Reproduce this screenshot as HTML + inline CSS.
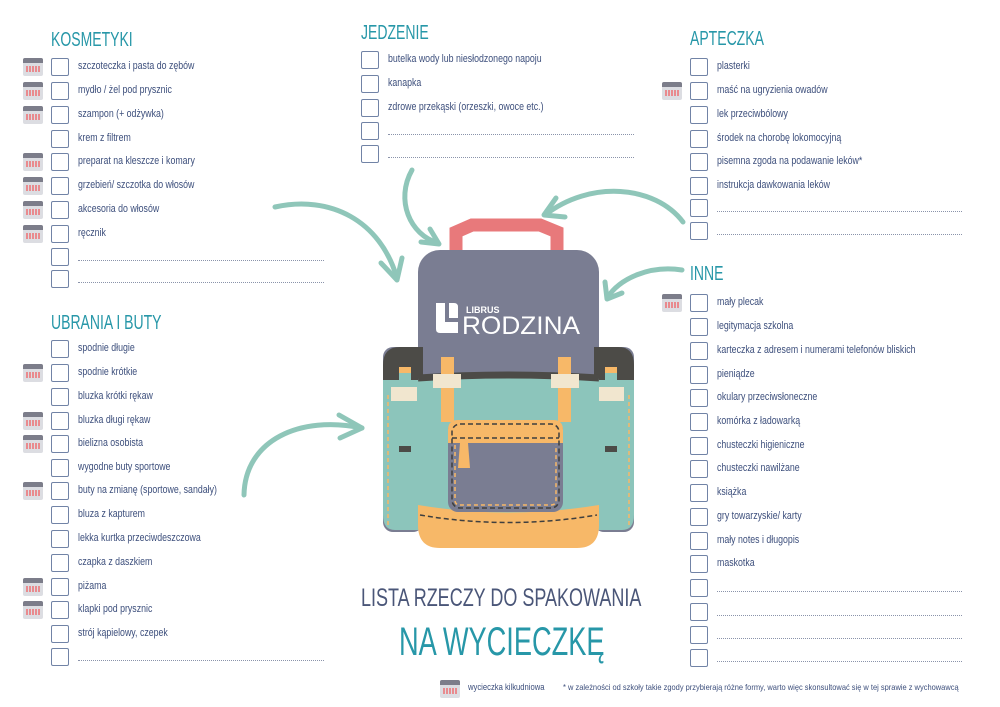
<!DOCTYPE html>
<html><head><meta charset="utf-8"><style>
*{margin:0;padding:0;box-sizing:border-box}
body{width:1000px;height:707px;background:#fff;position:relative;overflow:hidden;font-family:"Liberation Sans",sans-serif;color:#3d4f7c}
.h{position:absolute;font-family:"Liberation Sans",sans-serif;font-size:20px;color:#2797a8;transform:scaleX(0.7);transform-origin:0 0;white-space:nowrap}
.r{position:absolute;height:18px;width:300px}
.b{position:absolute;left:0;top:0;width:18px;height:18px;border:1.5px solid #7183a6;border-radius:2px;background:#fff}
.t{position:absolute;left:27px;top:2px;font-size:11px;white-space:nowrap;color:#3d4f7c;transform:scaleX(0.8);transform-origin:0 0}
.d{position:absolute;left:27px;top:12px;height:0;border-top:1px dotted #8a93aa}
.c{position:absolute;left:-28px;top:0;width:20px;height:18px;background:#dcdde2;border-radius:2px;overflow:hidden}
.c:before{content:"";position:absolute;left:0;top:0;width:20px;height:5px;background:#7c7d8a}
.c:after{content:"";position:absolute;left:3px;top:8px;width:14px;height:6px;background:repeating-linear-gradient(90deg,#e98a8e 0 2px,transparent 2px 3px)}
</style></head><body>

<svg width="1000" height="707" style="position:absolute;left:0;top:0" viewBox="0 0 1000 707">
<g fill="none" stroke="#8fc6b9" stroke-width="5" stroke-linecap="round" stroke-linejoin="round">
<path d="M275 207 C330 195 380 220 397 278"/><path d="M381 263 L397 280 L402 258"/>
<path d="M412 170 C395 200 410 235 438 243"/><path d="M421 242 L439 244 L430 229"/>
<path d="M683 222 C655 185 590 180 545 215"/><path d="M556 198 L544 215 L565 217"/>
<path d="M682 270 C650 265 620 278 607 298"/><path d="M605 282 L607 299 L622 293"/>
<path d="M244 495 C245 440 300 415 362 428"/><path d="M339 415 L362 428 L340 438"/>
</g>
<path d="M456 262 L456 232 L472 225 L540 225 L557 232 L557 262" fill="none" stroke="#e8797b" stroke-width="13"/>
<rect x="418" y="250" width="181" height="295" rx="22" fill="#7a7d92"/>
<rect x="383" y="347" width="40" height="185" rx="10" fill="#7a7d92"/>
<rect x="594" y="347" width="40" height="185" rx="10" fill="#7a7d92"/>
<path d="M383 380 L383 365 Q383 347 400 347 L423 347 L423 380 Z" fill="#4c4b47"/>
<path d="M594 380 L594 347 L618 347 Q634 347 634 365 L634 380 Z" fill="#4c4b47"/>
<path d="M383 380 L423 380 L423 530 L395 530 Q383 530 383 515 Z" fill="#8cc5bb"/>
<path d="M594 380 L634 380 L634 515 Q634 530 622 530 L594 530 Z" fill="#8cc5bb"/>
<rect x="399" y="367" width="12" height="85" fill="#8cc5bb"/>
<rect x="605" y="367" width="12" height="85" fill="#8cc5bb"/>
<rect x="399" y="367" width="12" height="6" fill="#f7b868"/>
<rect x="605" y="367" width="12" height="6" fill="#f7b868"/>
<rect x="399" y="446" width="12" height="6" fill="#4c4b47"/>
<rect x="605" y="446" width="12" height="6" fill="#4c4b47"/>
<rect x="391" y="387" width="26" height="14" fill="#f1e6cf"/>
<rect x="598" y="387" width="26" height="14" fill="#f1e6cf"/>
<path d="M418 378 Q508 372 599 378 L599 520 L418 520 Z" fill="#8cc5bb"/>
<path d="M418 378 Q508 372 599 378" stroke="#4c4b47" stroke-width="7" fill="none"/>
<rect x="441" y="357" width="13" height="65" fill="#f7b868"/>
<rect x="558" y="357" width="13" height="65" fill="#f7b868"/>
<rect x="433" y="374" width="28" height="14" fill="#f1e6cf"/>
<rect x="551" y="374" width="28" height="14" fill="#f1e6cf"/>
<path d="M418 505 Q508 520 599 505 L599 525 Q599 548 577 548 L440 548 Q418 548 418 525 Z" fill="#f7b868"/>
<rect x="448" y="420" width="115" height="92" rx="10" fill="#7a7d92"/>
<path d="M448 443 L448 430 Q448 420 458 420 L553 420 Q563 420 563 430 L563 443 Z" fill="#f7b868"/>
<polygon points="460,443 468,443 470,468 458,468" fill="#f7b868"/>
<g fill="none" stroke="#3f3f3f" stroke-width="1.5" stroke-dasharray="5 3">
<rect x="452" y="424" width="107" height="84" rx="8"/><path d="M452 438 L559 438"/>
<path d="M420 515 Q508 530 597 515"/></g>
<g fill="none" stroke="#f7b868" stroke-width="1.5" stroke-dasharray="4 3">
<path d="M388 395 L388 525"/><path d="M629 395 L629 525"/><path d="M455 445 L455 500 Q455 505 460 505 L551 505 Q556 505 556 500 L556 445"/></g>
<path d="M436 303 L445 303 L445 322 L458 322 L458 333 L440 333 Q436 333 436 329 Z" fill="#fff"/>
<path d="M449 303 L454 303 Q458 303 458 307 L458 318 L449 318 Z" fill="#fff"/>
<text x="466" y="313" font-family="Liberation Sans" font-weight="bold" font-size="9" fill="#fff">LIBRUS</text>
<text x="462" y="334" font-family="Liberation Sans" font-size="25" fill="#fff" textLength="118" lengthAdjust="spacingAndGlyphs">RODZINA</text>
</svg>

<div class="h" style="left:51px;top:29px">KOSMETYKI</div>
<div class="r" style="left:51px;top:58px"><i class="c"></i><i class="b"></i><span class="t">szczoteczka i pasta do zębów</span></div>
<div class="r" style="left:51px;top:82px"><i class="c"></i><i class="b"></i><span class="t">mydło / żel pod prysznic</span></div>
<div class="r" style="left:51px;top:106px"><i class="c"></i><i class="b"></i><span class="t">szampon (+ odżywka)</span></div>
<div class="r" style="left:51px;top:130px"><i class="b"></i><span class="t">krem z filtrem</span></div>
<div class="r" style="left:51px;top:153px"><i class="c"></i><i class="b"></i><span class="t">preparat na kleszcze i komary</span></div>
<div class="r" style="left:51px;top:177px"><i class="c"></i><i class="b"></i><span class="t">grzebień/ szczotka do włosów</span></div>
<div class="r" style="left:51px;top:201px"><i class="c"></i><i class="b"></i><span class="t">akcesoria do włosów</span></div>
<div class="r" style="left:51px;top:225px"><i class="c"></i><i class="b"></i><span class="t">ręcznik</span></div>
<div class="r" style="left:51px;top:248px"><i class="b"></i><span class="d" style="width:246px"></span></div>
<div class="r" style="left:51px;top:270px"><i class="b"></i><span class="d" style="width:246px"></span></div>

<div class="h" style="left:51px;top:312px">UBRANIA I BUTY</div>
<div class="r" style="left:51px;top:340px"><i class="b"></i><span class="t">spodnie długie</span></div>
<div class="r" style="left:51px;top:364px"><i class="c"></i><i class="b"></i><span class="t">spodnie krótkie</span></div>
<div class="r" style="left:51px;top:388px"><i class="b"></i><span class="t">bluzka krótki rękaw</span></div>
<div class="r" style="left:51px;top:412px"><i class="c"></i><i class="b"></i><span class="t">bluzka długi rękaw</span></div>
<div class="r" style="left:51px;top:435px"><i class="c"></i><i class="b"></i><span class="t">bielizna osobista</span></div>
<div class="r" style="left:51px;top:459px"><i class="b"></i><span class="t">wygodne buty sportowe</span></div>
<div class="r" style="left:51px;top:482px"><i class="c"></i><i class="b"></i><span class="t">buty na zmianę (sportowe, sandały)</span></div>
<div class="r" style="left:51px;top:506px"><i class="b"></i><span class="t">bluza z kapturem</span></div>
<div class="r" style="left:51px;top:530px"><i class="b"></i><span class="t">lekka kurtka przeciwdeszczowa</span></div>
<div class="r" style="left:51px;top:554px"><i class="b"></i><span class="t">czapka z daszkiem</span></div>
<div class="r" style="left:51px;top:578px"><i class="c"></i><i class="b"></i><span class="t">piżama</span></div>
<div class="r" style="left:51px;top:601px"><i class="c"></i><i class="b"></i><span class="t">klapki pod prysznic</span></div>
<div class="r" style="left:51px;top:625px"><i class="b"></i><span class="t">strój kąpielowy, czepek</span></div>
<div class="r" style="left:51px;top:648px"><i class="b"></i><span class="d" style="width:246px"></span></div>

<div class="h" style="left:361px;top:22px">JEDZENIE</div>
<div class="r" style="left:361px;top:51px"><i class="b"></i><span class="t">butelka wody lub niesłodzonego napoju</span></div>
<div class="r" style="left:361px;top:75px"><i class="b"></i><span class="t">kanapka</span></div>
<div class="r" style="left:361px;top:99px"><i class="b"></i><span class="t">zdrowe przekąski (orzeszki, owoce etc.)</span></div>
<div class="r" style="left:361px;top:122px"><i class="b"></i><span class="d" style="width:246px"></span></div>
<div class="r" style="left:361px;top:145px"><i class="b"></i><span class="d" style="width:246px"></span></div>

<div class="h" style="left:690px;top:28px">APTECZKA</div>
<div class="r" style="left:690px;top:58px"><i class="b"></i><span class="t">plasterki</span></div>
<div class="r" style="left:690px;top:82px"><i class="c"></i><i class="b"></i><span class="t">maść na ugryzienia owadów</span></div>
<div class="r" style="left:690px;top:106px"><i class="b"></i><span class="t">lek przeciwbólowy</span></div>
<div class="r" style="left:690px;top:130px"><i class="b"></i><span class="t">środek na chorobę lokomocyjną</span></div>
<div class="r" style="left:690px;top:153px"><i class="b"></i><span class="t">pisemna zgoda na podawanie leków*</span></div>
<div class="r" style="left:690px;top:177px"><i class="b"></i><span class="t">instrukcja dawkowania leków</span></div>
<div class="r" style="left:690px;top:199px"><i class="b"></i><span class="d" style="width:245px"></span></div>
<div class="r" style="left:690px;top:222px"><i class="b"></i><span class="d" style="width:245px"></span></div>

<div class="h" style="left:690px;top:263px">INNE</div>
<div class="r" style="left:690px;top:294px"><i class="c"></i><i class="b"></i><span class="t">mały plecak</span></div>
<div class="r" style="left:690px;top:318px"><i class="b"></i><span class="t">legitymacja szkolna</span></div>
<div class="r" style="left:690px;top:342px"><i class="b"></i><span class="t">karteczka z adresem i numerami telefonów bliskich</span></div>
<div class="r" style="left:690px;top:366px"><i class="b"></i><span class="t">pieniądze</span></div>
<div class="r" style="left:690px;top:389px"><i class="b"></i><span class="t">okulary przeciwsłoneczne</span></div>
<div class="r" style="left:690px;top:413px"><i class="b"></i><span class="t">komórka z ładowarką</span></div>
<div class="r" style="left:690px;top:437px"><i class="b"></i><span class="t">chusteczki higieniczne</span></div>
<div class="r" style="left:690px;top:460px"><i class="b"></i><span class="t">chusteczki nawilżane</span></div>
<div class="r" style="left:690px;top:484px"><i class="b"></i><span class="t">książka</span></div>
<div class="r" style="left:690px;top:508px"><i class="b"></i><span class="t">gry towarzyskie/ karty</span></div>
<div class="r" style="left:690px;top:532px"><i class="b"></i><span class="t">mały notes i długopis</span></div>
<div class="r" style="left:690px;top:555px"><i class="b"></i><span class="t">maskotka</span></div>
<div class="r" style="left:690px;top:579px"><i class="b"></i><span class="d" style="width:245px"></span></div>
<div class="r" style="left:690px;top:603px"><i class="b"></i><span class="d" style="width:245px"></span></div>
<div class="r" style="left:690px;top:626px"><i class="b"></i><span class="d" style="width:245px"></span></div>
<div class="r" style="left:690px;top:649px"><i class="b"></i><span class="d" style="width:245px"></span></div>

<div style="position:absolute;left:361px;top:584px;font-size:25px;color:#4a5678;white-space:nowrap;transform:scaleX(0.72);transform-origin:0 0">LISTA RZECZY DO SPAKOWANIA</div>
<div style="position:absolute;left:399px;top:620px;font-size:40px;color:#2797a8;white-space:nowrap;transform:scaleX(0.68);transform-origin:0 0">NA WYCIECZKĘ</div>

<div class="r" style="left:468px;top:680px"><i class="c"></i><span class="t" style="left:0;font-size:9px;transform:scaleX(0.85)">wycieczka kilkudniowa</span></div>
<div style="position:absolute;left:563px;top:682px;font-size:8.5px;white-space:nowrap;color:#3d4f7c;transform:scaleX(0.88);transform-origin:0 0">* w zależności od szkoły takie zgody przybierają różne formy, warto więc skonsultować się w tej sprawie z wychowawcą</div>
</body></html>
